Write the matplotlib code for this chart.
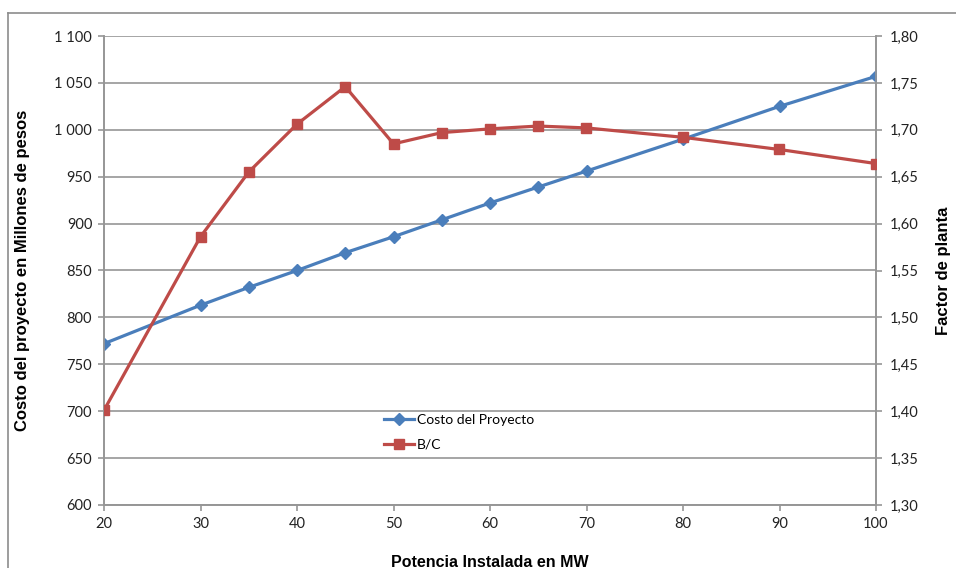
import numpy as np
import matplotlib.pyplot as plt
from matplotlib.ticker import FuncFormatter, MultipleLocator
from matplotlib.lines import Line2D

potencia = [20, 30, 35, 40, 45, 50, 55, 60, 65, 70, 80, 90, 100]
costo = [772, 813, 832, 850, 869, 886, 904, 922, 939, 956, 990, 1025, 1057]
bc = [1.401, 1.586, 1.655, 1.706, 1.746, 1.685, 1.697, 1.701, 1.704, 1.702, 1.692, 1.679, 1.664]

azul = "#4A7EBB"
rojo = "#BE4B48"
gris = "#969696"
tick_font = "Lato"
label_font = "Liberation Sans"

fig = plt.figure(figsize=(9.56, 5.68), dpi=100)
ax = fig.add_axes([104/956, 63/568, 772/956, 469/568])
ax2 = ax.twinx()

ax.plot(potencia, costo, color=azul, lw=2.3, marker="D", ms=6.5, label="Costo del Proyecto", zorder=3)
ax2.plot(potencia, bc, color=rojo, lw=2.3, marker="s", ms=7.5, label="B/C", zorder=3)

ax.set_xlim(20, 100)
ax.set_ylim(600, 1100)
ax2.set_ylim(1.30, 1.80)
ax.xaxis.set_major_locator(MultipleLocator(10))
ax.yaxis.set_major_locator(MultipleLocator(50))
ax2.yaxis.set_major_locator(MultipleLocator(0.05))

ax.yaxis.set_major_formatter(FuncFormatter(lambda v, p: f"{int(round(v)):,}".replace(",", " ")))
ax2.yaxis.set_major_formatter(FuncFormatter(lambda v, p: f"{v:.2f}".replace(".", ",")))

ax.grid(axis="y", color=gris, lw=1.2)
ax.set_axisbelow(True)
for a in (ax, ax2):
    a.spines["top"].set_visible(False)
    for s in ("left", "right", "bottom"):
        a.spines[s].set_color(gris)
        a.spines[s].set_linewidth(1.2)
    a.tick_params(colors=gris, labelcolor="#222222", length=4, width=1.2, labelsize=10.5)
    for lab in a.get_xticklabels() + a.get_yticklabels():
        lab.set_fontfamily(tick_font)
ax.tick_params(axis="y", pad=4.5)
ax.tick_params(axis="x", pad=5)
ax2.tick_params(axis="y", pad=6)

ax.set_ylabel("Costo del proyecto en Millones de pesos", fontsize=12, fontweight="bold",
              fontfamily=label_font)
ax.yaxis.set_label_coords((30 - 104) / 772, 0.5)
ax2.set_ylabel("Factor de planta", fontsize=12, fontweight="bold",
               fontfamily=label_font, labelpad=12)
ax.set_xlabel("Potencia Instalada en MW", fontsize=11.5, fontweight="bold",
              fontfamily=label_font, labelpad=17)

handles = [Line2D([], [], color=azul, lw=2.3, marker="D", ms=6.5),
           Line2D([], [], color=rojo, lw=2.3, marker="s", ms=7.5)]
ax2.legend(handles, ["Costo del Proyecto", "B/C"], loc="upper left",
           bbox_to_anchor=(371/956, 1 - 401/568), bbox_transform=fig.transFigure,
           frameon=False, handlelength=2.2, handletextpad=0.2, labelspacing=0.95,
           prop={"family": tick_font, "size": 10})

# marco exterior del grafico
fig.add_artist(Line2D([8/956, 1], [1 - 13/568, 1 - 13/568], color="#8C8C8C", lw=1.2))
fig.add_artist(Line2D([8/956, 8/956], [0, 1 - 13/568], color="#8C8C8C", lw=1.2))

fig.savefig("out.png", dpi=100)
